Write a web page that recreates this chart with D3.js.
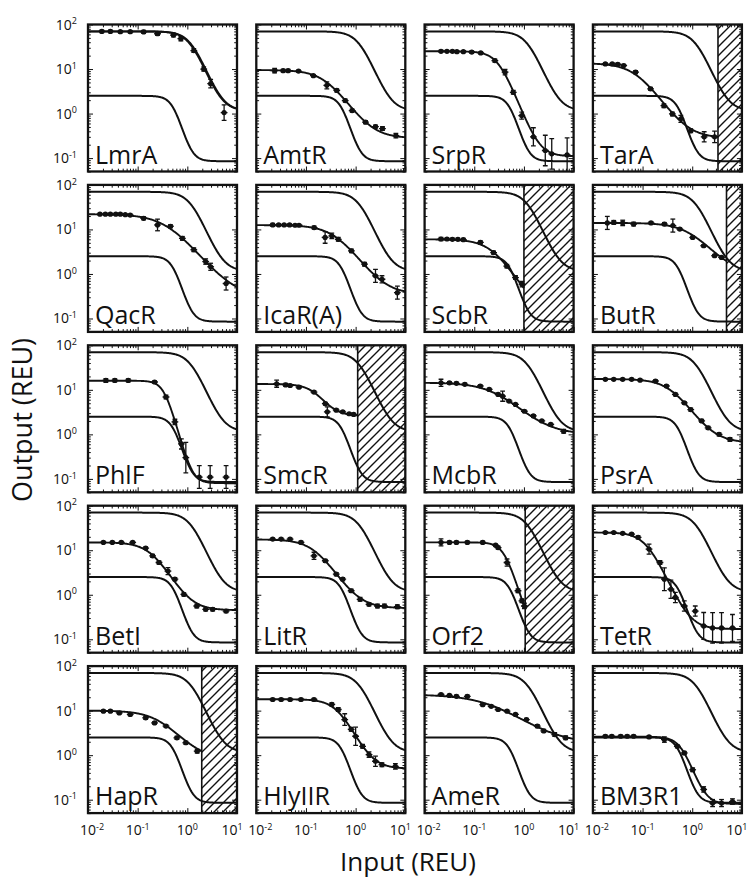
<!DOCTYPE html>
<html>
<head>
<meta charset="utf-8">
<script src="https://cdn.jsdelivr.net/npm/d3@7"></script>
<style>
  body { margin: 0; background: #fff; }
  svg { display: block; }
  text { font-family: "Open Sans", "DejaVu Sans", sans-serif; fill: #111; }
</style>
</head>
<body>
<svg id="chart" width="748" height="881"></svg>
<script>
// Repressor response functions: output (REU) vs input (REU), log-log.
const repressors = ["LmrA", "AmtR", "SrpR", "TarA",
                    "QacR", "IcaR(A)", "ScbR", "ButR",
                    "PhlF", "SmcR", "McbR", "PsrA",
                    "BetI", "LitR", "Orf2", "TetR",
                    "HapR", "HlyIIR", "AmeR", "BM3R1"];

// Hill fits per repressor: [ymax, ymin, K, n]
const hillFits = [
  [70, 1.15, 1.15, 2.9], [9.5, 0.28, 0.27, 1.8], [25, 0.11, 0.31, 2.9], [13.5, 0.28, 0.08, 1.75],
  [22, 0.3, 0.41, 1.45], [12.5, 0.35, 0.42, 1.7], [6, 0.1, 0.245, 1.9], [14, 1.0, 1.0, 1.6],
  [16, 0.08, 0.35, 4.2], [13.5, 2.6, 0.16, 2.6], [14.5, 1.0, 0.3, 1.32], [17.5, 0.65, 0.4, 1.85],
  [15, 0.45, 0.2, 2.1], [17.5, 0.5, 0.16, 1.9], [15, 0.1, 0.41, 3.8], [25, 0.17, 0.12, 2.5],
  [10, 0.8, 0.3, 1.6], [18, 0.5, 0.45, 2.4], [23, 1.8, 0.25, 1.0], [2.6, 0.08, 0.62, 3.4]
];

// Input level above which a gate is outside its working range (hatched)
const hatchStart = [null, null, null, 3.3,
                    null, null, 1.0, 4.9,
                    null, 1.1, null, null,
                    null, null, 1.06, null,
                    1.95, null, null, null];

// Bounding response curves shared by every panel: [ymax, ymin, K, n]
const upperBound = [70, 1.15, 1.2, 2.9];
const lowerBound = [2.5, 0.085, 0.53, 4.3];

// Measured inputs (REU)
const inputs = [
  [0.019, 0.0282, 0.0447, 0.0708, 0.132, 0.251, 0.525, 0.741, 1.35, 2.14, 2.95, 5.5],
  [0.0234, 0.0347, 0.0437, 0.0708, 0.141, 0.263, 0.417, 0.617, 0.851, 1.58, 2.51, 3.47, 6.46],
  [0.0214, 0.0282, 0.0363, 0.0447, 0.0603, 0.089, 0.135, 0.26, 0.417, 0.61, 0.902, 1.55, 2.69, 3.63, 7.41],
  [0.0178, 0.0245, 0.0316, 0.0417, 0.0724, 0.145, 0.269, 0.398, 0.589, 0.933, 1.74, 2.82],
  [0.0174, 0.0224, 0.0282, 0.0363, 0.0447, 0.0562, 0.0708, 0.132, 0.251, 0.457, 0.794, 1.35, 2.34, 2.95, 6.03],
  [0.0214, 0.0282, 0.0363, 0.0468, 0.0603, 0.0724, 0.146, 0.243, 0.331, 0.447, 0.822, 1.51, 2.51, 3.39, 6.92],
  [0.0214, 0.0282, 0.0363, 0.0468, 0.0603, 0.133, 0.245, 0.452, 0.676, 0.912],
  [0.0195, 0.0263, 0.0398, 0.0661, 0.148, 0.275, 0.407, 0.562, 1.02, 1.7, 2.82, 3.89],
  [0.0229, 0.0347, 0.0646, 0.219, 0.372, 0.562, 0.759, 0.933, 1.74, 2.88, 6.03],
  [0.0257, 0.0389, 0.0479, 0.0724, 0.145, 0.245, 0.269, 0.407, 0.55, 0.741, 0.912],
  [0.0214, 0.0316, 0.0437, 0.0646, 0.132, 0.2, 0.302, 0.372, 0.501, 0.676, 1.02, 1.55, 2.29, 3.47, 6.31],
  [0.0178, 0.0263, 0.0398, 0.0603, 0.0891, 0.182, 0.302, 0.457, 0.692, 0.933, 1.55, 2.09, 3.47, 5.75],
  [0.0204, 0.0309, 0.0468, 0.0794, 0.145, 0.2, 0.269, 0.407, 0.562, 0.851, 1.55, 2.34, 3.24, 6.03],
  [0.0214, 0.0316, 0.0479, 0.0794, 0.145, 0.245, 0.407, 0.55, 0.813, 1.23, 1.86, 2.75, 3.8, 6.92],
  [0.0214, 0.0316, 0.0437, 0.0724, 0.148, 0.269, 0.302, 0.457, 0.759, 0.912, 1.02],
  [0.0178, 0.0263, 0.0398, 0.0603, 0.0813, 0.135, 0.224, 0.275, 0.372, 0.457, 0.692, 1.15, 1.7, 2.57, 3.89, 6.46],
  [0.0204, 0.0282, 0.0427, 0.0708, 0.145, 0.219, 0.372, 0.617, 0.933, 1.58],
  [0.0214, 0.0316, 0.0479, 0.0794, 0.145, 0.331, 0.447, 0.603, 0.813, 1.0, 1.38, 1.86, 2.51, 3.39, 6.31],
  [0.0214, 0.0316, 0.0437, 0.0724, 0.148, 0.219, 0.302, 0.457, 0.676, 1.12, 1.86, 2.51, 4.17, 6.92],
  [0.0178, 0.024, 0.0363, 0.049, 0.0661, 0.135, 0.275, 0.501, 0.692, 1.02, 1.7, 2.57, 3.89, 6.46]
];

// Measured outputs (REU)
const outputs = [
  [70, 70, 69, 69, 68, 62, 58, 48, 26, 10, 4.7, 1.05],
  [9.2, 9.2, 9.2, 9.0, 7.1, 4.3, 3.3, 1.96, 1.17, 0.64, 0.51, 0.46, 0.32],
  [25, 25, 25, 24.5, 24.5, 24, 23, 15.5, 8.5, 3.0, 0.9, 0.3, 0.148, 0.125, 0.118],
  [13, 13, 12.8, 12, 8.5, 3.6, 1.5, 0.98, 0.76, 0.41, 0.3, 0.3],
  [22, 22, 22, 22, 22, 21.5, 21, 17.8, 12.6, 11.8, 6.3, 3.5, 1.9, 1.45, 0.61],
  [12.6, 12.6, 12.6, 12.6, 12.4, 12.4, 11, 6.6, 7.2, 6.0, 3.3, 1.66, 0.91, 0.76, 0.38],
  [6.1, 6.1, 6.0, 6.0, 5.9, 5.1, 3.0, 1.5, 0.83, 0.59],
  [14, 14.4, 14, 13.2, 14, 13.2, 12.2, 10.2, 6.6, 4.3, 2.57, 2.35],
  [16.3, 16.3, 16.3, 15, 6.9, 1.9, 0.61, 0.3, 0.11, 0.11, 0.11],
  [13.7, 12.9, 12.5, 11.5, 8.9, 4.9, 3.2, 3.5, 3.2, 2.9, 2.8],
  [14.4, 14.4, 14, 13.3, 12.2, 10.2, 7.9, 7.2, 5.6, 4.7, 3.3, 2.6, 2.0, 1.67, 1.17],
  [17.2, 17.2, 17.2, 17.2, 16.5, 15.8, 12.2, 7.9, 5.1, 3.6, 2.0, 1.4, 1.0, 0.77],
  [15, 15, 15, 15, 11.2, 7.5, 5.3, 3.4, 2.24, 1.02, 0.56, 0.47, 0.47, 0.43],
  [17.8, 17.8, 17.8, 15, 7.5, 5.8, 2.9, 2.24, 1.23, 0.79, 0.61, 0.56, 0.56, 0.54],
  [15, 15, 15, 15, 15, 13, 11.5, 5.3, 1.23, 0.73, 0.56],
  [25, 25, 24, 23, 19.5, 10.6, 5.3, 2.24, 1.33, 0.87, 0.56, 0.43, 0.2, 0.18, 0.18, 0.18],
  [9.7, 9.7, 8.9, 8.2, 6.9, 5.3, 4.5, 2.45, 1.9, 1.23],
  [17.8, 17.8, 17.8, 17.8, 17.8, 13.8, 10.6, 6.3, 3.8, 2.66, 1.58, 1.03, 0.73, 0.61, 0.56],
  [23, 21.9, 21, 21, 13.6, 12.5, 10.6, 9.7, 8.2, 6.3, 4.5, 3.5, 2.9, 2.45],
  [2.66, 2.66, 2.66, 2.66, 2.66, 2.57, 2.24, 1.58, 1.12, 0.47, 0.17, 0.084, 0.084, 0.091]
];

// Multiplicative standard error of each output
const errors = [
  [1.06, 1.06, 1.06, 1.06, 1.08, 1.08, 1.1, 1.12, 1.1, 1.12, 1.25, 1.5],
  [1.12, 1.06, 1.06, 1.05, 1.06, 1.2, 1.08, 1.08, 1.08, 1.08, 1.08, 1.1, 1.12],
  [1.06, 1.05, 1.05, 1.05, 1.05, 1.06, 1.06, 1.08, 1.15, 1.1, 1.2, 1.6, 2.2, 2.2, 2.4],
  [1.06, 1.06, 1.06, 1.06, 1.08, 1.08, 1.1, 1.1, 1.2, 1.1, 1.3, 1.35],
  [1.05, 1.05, 1.05, 1.05, 1.05, 1.05, 1.05, 1.08, 1.35, 1.08, 1.1, 1.1, 1.15, 1.2, 1.4],
  [1.08, 1.05, 1.05, 1.05, 1.05, 1.05, 1.08, 1.35, 1.15, 1.1, 1.1, 1.1, 1.4, 1.2, 1.4],
  [1.08, 1.06, 1.06, 1.06, 1.06, 1.08, 1.08, 1.1, 1.1, 1.15],
  [1.4, 1.1, 1.15, 1.1, 1.06, 1.08, 1.4, 1.06, 1.06, 1.06, 1.06, 1.06],
  [1.1, 1.08, 1.08, 1.06, 1.1, 1.15, 1.3, 2.2, 1.8, 1.8, 1.8],
  [1.2, 1.08, 1.06, 1.06, 1.06, 1.06, 1.3, 1.06, 1.06, 1.06, 1.06],
  [1.2, 1.06, 1.06, 1.06, 1.06, 1.06, 1.06, 1.3, 1.06, 1.06, 1.06, 1.06, 1.06, 1.06, 1.1],
  [1.05, 1.05, 1.05, 1.05, 1.05, 1.06, 1.06, 1.06, 1.06, 1.08, 1.08, 1.08, 1.08, 1.1],
  [1.05, 1.05, 1.05, 1.05, 1.06, 1.08, 1.08, 1.2, 1.08, 1.08, 1.1, 1.08, 1.08, 1.08],
  [1.05, 1.05, 1.05, 1.06, 1.2, 1.08, 1.08, 1.08, 1.08, 1.1, 1.08, 1.1, 1.1, 1.1],
  [1.2, 1.06, 1.06, 1.06, 1.06, 1.06, 1.08, 1.2, 1.1, 1.1, 1.15],
  [1.05, 1.05, 1.05, 1.05, 1.08, 1.3, 1.1, 1.8, 1.6, 1.3, 1.3, 1.3, 2.0, 2.2, 2.2, 2.0],
  [1.06, 1.06, 1.06, 1.06, 1.08, 1.06, 1.06, 1.08, 1.08, 1.1],
  [1.06, 1.06, 1.06, 1.06, 1.06, 1.08, 1.1, 1.35, 1.1, 1.6, 1.1, 1.15, 1.3, 1.1, 1.15],
  [1.06, 1.06, 1.06, 1.06, 1.06, 1.06, 1.06, 1.06, 1.06, 1.06, 1.08, 1.08, 1.1, 1.1],
  [1.06, 1.06, 1.06, 1.06, 1.06, 1.06, 1.15, 1.08, 1.08, 1.1, 1.15, 1.2, 1.2, 1.15]
];

// Axis ticks (decades) and their exponent labels
const xTickValues = [0.01, 0.1, 1, 10];
const xTickExponents = ["-2", "-1", "0", "1"];
const yTickValues = [0.1, 1, 10, 100];
const yTickExponents = ["-1", "0", "1", "2"];

// ---- layout ----
const gridLeft = 88, colPitch = 168.3, panelW = 149;
const gridTop = 24.5, rowPitch = 160.4, panelH = 147;
const ink = "#111";

const hill = (p, x) => p[1] + (p[0] - p[1]) / (1 + Math.pow(x / p[2], p[3]));

const svg = d3.select("#chart");
const defs = svg.append("defs");

defs.append("pattern")
  .attr("id", "hatch")
  .attr("patternUnits", "userSpaceOnUse")
  .attr("width", 9).attr("height", 9)
  .append("path")
  .attr("d", "M-1,10 L10,-1 M-2,2 L2,-2 M7,11 L11,7")
  .attr("stroke", ink).attr("stroke-width", 1.4).attr("fill", "none");

function superLabel(sel, exponent, baseSize, supSize) {
  sel.append("tspan").attr("font-size", baseSize).text("10");
  sel.append("tspan").attr("font-size", supSize).attr("dy", -baseSize * 0.38).text(exponent);
}

repressors.forEach((name, i) => {
  const r = Math.floor(i / 4), c = i % 4;
  const left = gridLeft + c * colPitch;
  const top = gridTop + r * rowPitch;

  const x = d3.scaleLog().domain([0.01, 10]).range([left, left + panelW]);
  const y = d3.scaleLog().domain([0.05, 100]).range([top + panelH, top]);

  const g = svg.append("g");
  const clipId = "clip" + i;
  defs.append("clipPath").attr("id", clipId)
    .append("rect").attr("x", left).attr("y", top).attr("width", panelW).attr("height", panelH);

  const body = g.append("g").attr("clip-path", `url(#${clipId})`);

  // hatched out-of-range region
  if (hatchStart[i] !== null) {
    const hx = x(hatchStart[i]);
    body.append("rect")
      .attr("x", hx).attr("y", top)
      .attr("width", left + panelW - hx).attr("height", panelH)
      .attr("fill", "url(#hatch)");
    body.append("line")
      .attr("x1", hx).attr("x2", hx).attr("y1", top).attr("y2", top + panelH)
      .attr("stroke", ink).attr("stroke-width", 1.6);
  }

  const line = d3.line().x(d => x(d[0])).y(d => y(d[1])).curve(d3.curveLinear);
  const sample = (p, xmax) => d3.range(0, 241).map(k => {
    const xv = Math.pow(10, -2 + (Math.log10(xmax) + 2) * k / 240);
    return [xv, hill(p, xv)];
  });

  [upperBound, lowerBound].forEach(p => {
    body.append("path").attr("d", line(sample(p, 10)))
      .attr("fill", "none").attr("stroke", ink).attr("stroke-width", 2);
  });

  const xEnd = hatchStart[i] !== null ? hatchStart[i] : 10;
  body.append("path").attr("d", line(sample(hillFits[i], xEnd)))
    .attr("fill", "none").attr("stroke", ink).attr("stroke-width", 1.9);

  // data points with error bars
  const pts = inputs[i].map((xv, k) => ({ x: xv, y: outputs[i][k], e: errors[i][k] }));
  const pg = body.append("g").attr("stroke", ink).attr("fill", ink);
  pts.forEach(d => {
    const cx = x(d.x), cy = y(d.y);
    const y1 = y(d.y * d.e), y2 = y(d.y / d.e);
    pg.append("line").attr("x1", cx).attr("x2", cx).attr("y1", y1).attr("y2", y2).attr("stroke-width", 1.3);
    pg.append("line").attr("x1", cx - 2.4).attr("x2", cx + 2.4).attr("y1", y1).attr("y2", y1).attr("stroke-width", 1.3);
    pg.append("line").attr("x1", cx - 2.4).attr("x2", cx + 2.4).attr("y1", y2).attr("y2", y2).attr("stroke-width", 1.3);
    pg.append("line").attr("x1", cx - 3.4).attr("x2", cx + 3.4).attr("y1", cy).attr("y2", cy).attr("stroke-width", 1.3);
    pg.append("circle").attr("cx", cx).attr("cy", cy).attr("r", 2.6).attr("stroke", "none");
  });

  // inward ticks on all four sides
  const minorX = x.ticks().filter(v => !xTickValues.includes(v));
  const minorY = y.ticks().filter(v => !yTickValues.includes(v) && v >= 0.05);
  const axes = [
    [d3.axisBottom(x), `translate(0,${top + panelH})`, xTickValues, minorX],
    [d3.axisTop(x), `translate(0,${top})`, xTickValues, minorX],
    [d3.axisLeft(y), `translate(${left},0)`, yTickValues, minorY],
    [d3.axisRight(y), `translate(${left + panelW},0)`, yTickValues, minorY]
  ];
  axes.forEach(([ax, tr, major, minor]) => {
    [[major, 5], [minor, 2.8]].forEach(([vals, len]) => {
      const a = g.append("g").attr("transform", tr)
        .call(ax.tickValues(vals).tickSizeInner(-len).tickSizeOuter(0).tickFormat(""));
      a.select(".domain").remove();
      a.selectAll(".tick line").attr("stroke", ink).attr("stroke-width", 1);
    });
  });

  g.append("rect")
    .attr("x", left).attr("y", top).attr("width", panelW).attr("height", panelH)
    .attr("fill", "none").attr("stroke", ink).attr("stroke-width", 2.3);

  g.append("text")
    .attr("x", left + 7).attr("y", top + panelH - 8)
    .attr("font-size", 25)
    .text(name);

  // y tick labels on the first column
  if (c === 0) {
    yTickValues.forEach((v, k) => {
      const t = g.append("text")
        .attr("x", left - 11).attr("y", y(v) + 5)
        .attr("text-anchor", "end");
      superLabel(t, yTickExponents[k], 14, 9);
    });
  }
  // x tick labels on the last row
  if (r === 4) {
    xTickValues.forEach((v, k) => {
      const shift = k === 0 ? 4 : (k === xTickValues.length - 1 ? -5 : 0);
      const t = g.append("text")
        .attr("x", x(v) + shift).attr("y", top + panelH + 22)
        .attr("text-anchor", "middle");
      superLabel(t, xTickExponents[k], 14, 9);
    });
  }
});

svg.append("text")
  .attr("transform", "translate(32,420) rotate(-90)")
  .attr("text-anchor", "middle")
  .attr("font-size", 27)
  .text("Output (REU)");

svg.append("text")
  .attr("x", 408).attr("y", 871)
  .attr("text-anchor", "middle")
  .attr("font-size", 26)
  .text("Input (REU)");
</script>
</body>
</html>
